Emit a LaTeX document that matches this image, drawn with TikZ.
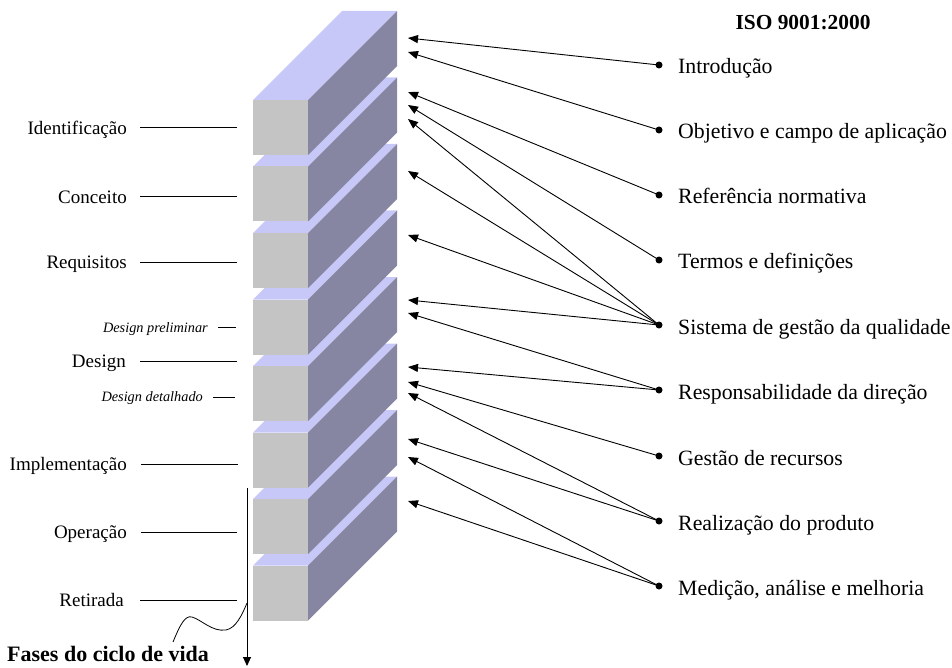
\documentclass[tikz,border=0pt]{standalone}
\usepackage{fontspec}
\setmainfont{Liberation Serif}
\usetikzlibrary{arrows.meta}

\definecolor{topface}{RGB}{200,200,248}
\definecolor{sideface}{RGB}{134,134,162}
\definecolor{frontface}{RGB}{196,196,196}

\tikzset{
  phase/.style={anchor=base east, inner sep=0pt, font=\fontsize{19}{22}\selectfont},
  subphase/.style={anchor=base east, inner sep=0pt, font=\fontsize{14.3}{17}\selectfont\itshape},
  clause/.style={anchor=base west, inner sep=0pt, font=\fontsize{21.8}{25}\selectfont},
  heading/.style={anchor=base, inner sep=0pt, font=\fontsize{21.4}{25}\selectfont\bfseries},
  bullet/.style={circle, fill=black, inner sep=0pt, minimum size=7pt},
  link/.style={line width=0.9pt, -{Triangle[length=10pt,width=8pt]}},
  tick/.style={line width=1pt},
}

\begin{document}
\begin{tikzpicture}[x=1pt,y=-1pt]
\useasboundingbox (0,0) rectangle (952,668);

% stacked life-cycle blocks, painted from the bottom one upwards
\foreach \i in {7,...,0}{
  \pgfmathsetmacro\yt{100+66.5*\i}
  \fill[topface] (253,\yt) -- (308,\yt) -- (397,\yt-89) -- (342,\yt-89) -- cycle;
  \fill[sideface] (308,\yt) -- (397,\yt-89) -- (397,\yt-34) -- (308,\yt+55) -- cycle;
  \fill[frontface] (253,\yt) rectangle (308,\yt+55);
}

% life-cycle phases
\node[phase] (p1) at (127,134.5) {Identificação};
\node[phase] (p2) at (127,203.5) {Conceito};
\node[phase] (p3) at (127,268.5) {Requisitos};
\node[subphase] (p4) at (208,332) {Design preliminar};
\node[phase] (p5) at (126,367.5) {Design};
\node[subphase] (p6) at (203,401.5) {Design detalhado};
\node[phase] (p7) at (127,470.5) {Implementação};
\node[phase] (p8) at (127,538.5) {Operação};
\node[phase] (p9) at (124,606.5) {Retirada};

\coordinate (p1a) at (140,128); \coordinate (p1b) at (237,128);
\coordinate (p2a) at (140,197); \coordinate (p2b) at (237,197);
\coordinate (p3a) at (140,262); \coordinate (p3b) at (237,262);
\coordinate (p4a) at (218,327); \coordinate (p4b) at (236,327);
\coordinate (p5a) at (140,361); \coordinate (p5b) at (237,361);
\coordinate (p6a) at (213,397); \coordinate (p6b) at (235,397);
\coordinate (p7a) at (141,464); \coordinate (p7b) at (238,464);
\coordinate (p8a) at (141,532); \coordinate (p8b) at (237,532);
\coordinate (p9a) at (140,600); \coordinate (p9b) at (237,600);
\foreach \k in {1,...,9}{ \draw[tick] (p\k a) -- (p\k b); }

% time axis of the life cycle
\coordinate (axtop) at (247,488);
\coordinate (axbot) at (247,666);
\draw[line width=0.9pt, -{Triangle[length=9pt,width=8pt]}] (axtop) -- (axbot);
\node[anchor=base west, inner sep=0pt, font=\fontsize{22}{25}\selectfont\bfseries] (fases) at (7,661) {Fases do ciclo de vida};
\coordinate (wavestart) at (173,642);
\coordinate (waveend) at (247,603);
\draw[line width=0.8pt] (wavestart) .. controls (180,625) and (185,615) .. (192,617)
  .. controls (202,620) and (212,632) .. (226,630)
  .. controls (236,628) and (242,615) .. (waveend);

% ISO 9001:2000 clauses
\node[heading] (iso) at (803,30) {ISO 9001:2000};
\node[bullet] (d1) at (659,65) {};
\node[bullet] (d2) at (659,130) {};
\node[bullet] (d3) at (659,195) {};
\node[bullet] (d4) at (659,260) {};
\node[bullet] (d5) at (659,325) {};
\node[bullet] (d6) at (659,390) {};
\node[bullet] (d7) at (659,456) {};
\node[bullet] (d8) at (659,521) {};
\node[bullet] (d9) at (659,586) {};
\node[clause] (c1) at (678,74) {Introdução};
\node[clause] (c2) at (678,139) {Objetivo e campo de aplicação};
\node[clause] (c3) at (678,204) {Referência normativa};
\node[clause] (c4) at (678,269) {Termos e definições};
\node[clause] (c5) at (678,334) {Sistema de gestão da qualidade};
\node[clause] (c6) at (678,399) {Responsabilidade da direção};
\node[clause] (c7) at (678,465) {Gestão de recursos};
\node[clause] (c8) at (678,530) {Realização do produto};
\node[clause] (c9) at (678,595) {Medição, análise e melhoria};

% arrow targets beside the blocks
\coordinate (t1) at (408,38);
\coordinate (t2) at (408,52);
\coordinate (t3) at (408,92);
\coordinate (t4) at (408,105);
\coordinate (t5) at (408,119);
\coordinate (t6) at (408,171);
\coordinate (t7) at (408,235);
\coordinate (t8) at (408,300);
\coordinate (t9) at (408,313);
\coordinate (t10) at (408,367);
\coordinate (t11) at (408,382);
\coordinate (t12) at (408,393);
\coordinate (t13) at (408,439);
\coordinate (t14) at (408,457);
\coordinate (t15) at (408,501);

\draw[link] (d1.center) -- (t1);
\draw[link] (d2.center) -- (t2);
\draw[link] (d3.center) -- (t3);
\draw[link] (d4.center) -- (t4);
\draw[link] (d5.center) -- (t5);
\draw[link] (d5.center) -- (t6);
\draw[link] (d5.center) -- (t7);
\draw[link] (d5.center) -- (t8);
\draw[link] (d6.center) -- (t9);
\draw[link] (d6.center) -- (t10);
\draw[link] (d7.center) -- (t11);
\draw[link] (d8.center) -- (t12);
\draw[link] (d8.center) -- (t13);
\draw[link] (d9.center) -- (t14);
\draw[link] (d9.center) -- (t15);
\end{tikzpicture}
\end{document}
